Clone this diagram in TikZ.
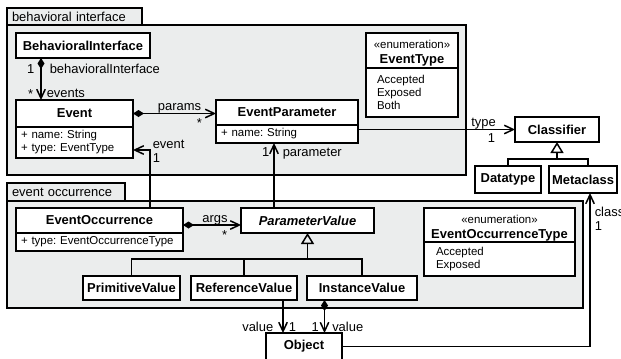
\documentclass[tikz,border=0pt]{standalone}
\usepackage{fontspec}
\setmainfont{Liberation Sans}
\usepackage{xcolor}
\usepackage{tikz}
\usetikzlibrary{arrows.meta,positioning}
\definecolor{pkgfill}{RGB}{235,237,237}
\frenchspacing
\newcommand{\namefont}{\fontsize{13}{15}\selectfont\bfseries}
\newcommand{\attrfont}{\fontsize{11.5}{13}\selectfont}
\newcommand{\lblfont}{\fontsize{13}{15}\selectfont}
\newcommand{\stereo}{{\attrfont\mdseries\rule{0pt}{14bp}«enumeration»}}

\begin{document}
\begin{tikzpicture}[x=1bp, y=-1bp,
	pkg/.style={draw, fill=pkgfill, line width=1.3bp, outer sep=0pt},
	pkg tab/.style={pkg, font=\lblfont, align=left, inner xsep=5bp, inner ysep=0pt, anchor=north west},
	classbox/.style={draw, fill=white, line width=1.6bp, outer sep=0pt, inner sep=0pt,
		font=\namefont, minimum height=25bp},
	attrbox/.style={draw, fill=white, line width=1.6bp, outer sep=0pt, inner xsep=5bp, inner ysep=0pt,
		font=\attrfont, align=left},
	link/.style={line width=1.5bp},
	assoc/.style={link, -{Straight Barb[length=9bp,width=8.5bp]}},
	comp/.style={link, {Diamond[length=11bp,width=7bp]}-{Straight Barb[length=9bp,width=8.5bp]}},
	gen/.style={link, -{Triangle[open,length=11bp,width=13bp]}},
	lbl/.style={font=\lblfont, inner sep=1bp}]

    \useasboundingbox (0,0) rectangle (621,358);

    % packages
    \node[pkg, anchor=north west, minimum width=459bp, minimum height=150bp] (biPkg) at (7,25) {};
    \node[pkg tab, text width=125bp, minimum height=17bp] (biTab) at (7,8) {behavioral interface};
    \node[pkg, anchor=north west, minimum width=576bp, minimum height=107bp] (eoPkg) at (7,201) {};
    \node[pkg tab, text width=108bp, minimum height=18bp] (eoTab) at (7,183) {event occurrence};

    % behavioral interface
    \node[classbox, anchor=north west, minimum width=134bp] (BI) at (16,33) {BehavioralInterface};
    \node[classbox, anchor=north west, minimum width=117bp, minimum height=27bp] (Event) at (16,100) {Event};
    \node[attrbox, below=0pt of Event, text width=107bp, minimum height=31bp] (EventAttr) {+ name: String\\+ type: EventType};
    \node[classbox, anchor=north west, minimum width=142bp] (EvtParam) at (216,100) {EventParameter};
    \node[attrbox, below=0pt of EvtParam, text width=132bp, minimum height=18bp] (EvtParamAttr) {+ name: String};
    \node[classbox, anchor=north west, minimum width=92bp, minimum height=35bp, align=center] (EvtType) at (366,33)
        {\stereo\\EventType};
    \node[attrbox, below=0pt of EvtType, inner xsep=11bp, text width=70bp, minimum height=49bp] (EvtTypeAttr) {Accepted\\Exposed\\Both};

    % classifiers
    \node[classbox, anchor=north west, minimum width=84bp] (Classifier) at (515,117) {Classifier};
    \node[classbox, anchor=north west, minimum width=66bp, minimum height=27bp] (Datatype) at (475,166) {Datatype};
    \node[classbox, right=8bp of Datatype, minimum width=68bp, minimum height=27bp] (Metaclass) {Metaclass};

    % event occurrence
    \node[classbox, anchor=north west, minimum width=167bp] (EvtOcc) at (16,208) {EventOccurrence};
    \node[attrbox, below=0pt of EvtOcc, text width=157bp, minimum height=18bp] (EvtOccAttr) {+ type: EventOccurrenceType};
    \node[classbox, anchor=north west, minimum width=133bp, font=\namefont\itshape] (ParamVal) at (241,208) {ParameterValue};
    \node[classbox, anchor=north west, minimum width=97bp, minimum height=24bp] (PrimVal) at (83,276) {PrimitiveValue};
    \node[classbox, right=11bp of PrimVal, minimum width=106bp, minimum height=24bp] (RefVal) {ReferenceValue};
    \node[classbox, right=10bp of RefVal, minimum width=110bp, minimum height=24bp] (InstVal) {InstanceValue};
    \node[classbox, anchor=north west, minimum width=151bp, minimum height=34bp, align=center] (EvtOccType) at (424,208)
        {\stereo\\EventOccurrenceType};
    \node[attrbox, below=0pt of EvtOccType, inner xsep=12bp, text width=127bp, minimum height=34bp] (EvtOccTypeAttr) {Accepted\\Exposed};

    \node[classbox, anchor=north west, minimum width=76bp, minimum height=27bp] (Object) at (266,333) {Object};

    % associations
    \draw[comp] ([xshift=25bp]BI.south west) -- ([xshift=25bp]Event.north west)
        node[lbl, pos=0.27, left=5bp] {1}
        node[lbl, pos=0.27, right=7bp] {behavioralInterface}
        node[lbl, pos=0.85, left=6bp] {*}
        node[lbl, pos=0.85, right=4bp] {events};
    \draw[comp] (Event.east) -- (Event.east -| EvtParam.west)
        node[lbl, pos=0.56, above=-1.5bp] {params}
        node[lbl, pos=0.8, below=3bp] {*};
    \draw[comp] ([yshift=-4.5bp]EvtOcc.east) -- ([yshift=-4.5bp]EvtOcc.east -| ParamVal.west)
        node[lbl, pos=0.55, above=-1.5bp] {args}
        node[lbl, pos=0.72, below=4bp] {*};
    \draw[comp] ([xshift=-37.5bp]InstVal.south) -- ([xshift=-37.5bp]InstVal.south |- Object.north)
        node[lbl, at end, anchor=south east, xshift=-4bp] {1}
        node[lbl, at end, anchor=south west, xshift=6bp] {value};
    \draw[assoc] ([xshift=39bp]RefVal.south) -- ([xshift=39bp]RefVal.south |- Object.north)
        node[lbl, at end, anchor=south east, xshift=-8bp] {value}
        node[lbl, at end, anchor=south west, xshift=4bp] {1};
    \draw[assoc] ([xshift=50.5bp]EvtOcc.north) |- ([yshift=-7.5bp]EventAttr.east)
        node[lbl, pos=0.5, anchor=south west, xshift=1bp] {event}
        node[lbl, pos=0.5, anchor=north west, xshift=1bp, yshift=-2bp] {1};
    \draw[assoc] ([xshift=-33.5bp]ParamVal.north) -- ([xshift=-33.5bp]ParamVal.north |- EvtParamAttr.south)
        node[lbl, at end, anchor=north east, xshift=-3bp, yshift=-3bp] {1}
        node[lbl, at end, anchor=north west, xshift=7bp, yshift=-3bp] {parameter};
    \draw[assoc] (EvtParamAttr.east |- Classifier.west) -- (Classifier.west)
        node[lbl, pos=0.8, above=-1.5bp] {type}
        node[lbl, pos=0.85, below=2bp] {1};
    \draw[assoc] (Object.east) -| ([xshift=7bp]Metaclass.south)
        node[lbl, at end, anchor=north west, xshift=3bp, yshift=-12bp] {class}
        node[lbl, at end, anchor=north west, xshift=3bp, yshift=-27bp] {1};

    % generalizations
    \draw[gen] ([yshift=7bp]Datatype.north) -| (Classifier.south);
    \draw[link] (Datatype.north) |- ([xshift=5bp,yshift=7bp]Metaclass.north) -- ([xshift=5bp]Metaclass.north);
    \draw[gen] ([yshift=17bp]PrimVal.north) -| (ParamVal.south);
    \draw[link] (PrimVal.north) |- ([yshift=17bp]InstVal.north) -- (InstVal.north);
    \draw[link] (RefVal.north) -- ++(0,-17);

\end{tikzpicture}
\end{document}
